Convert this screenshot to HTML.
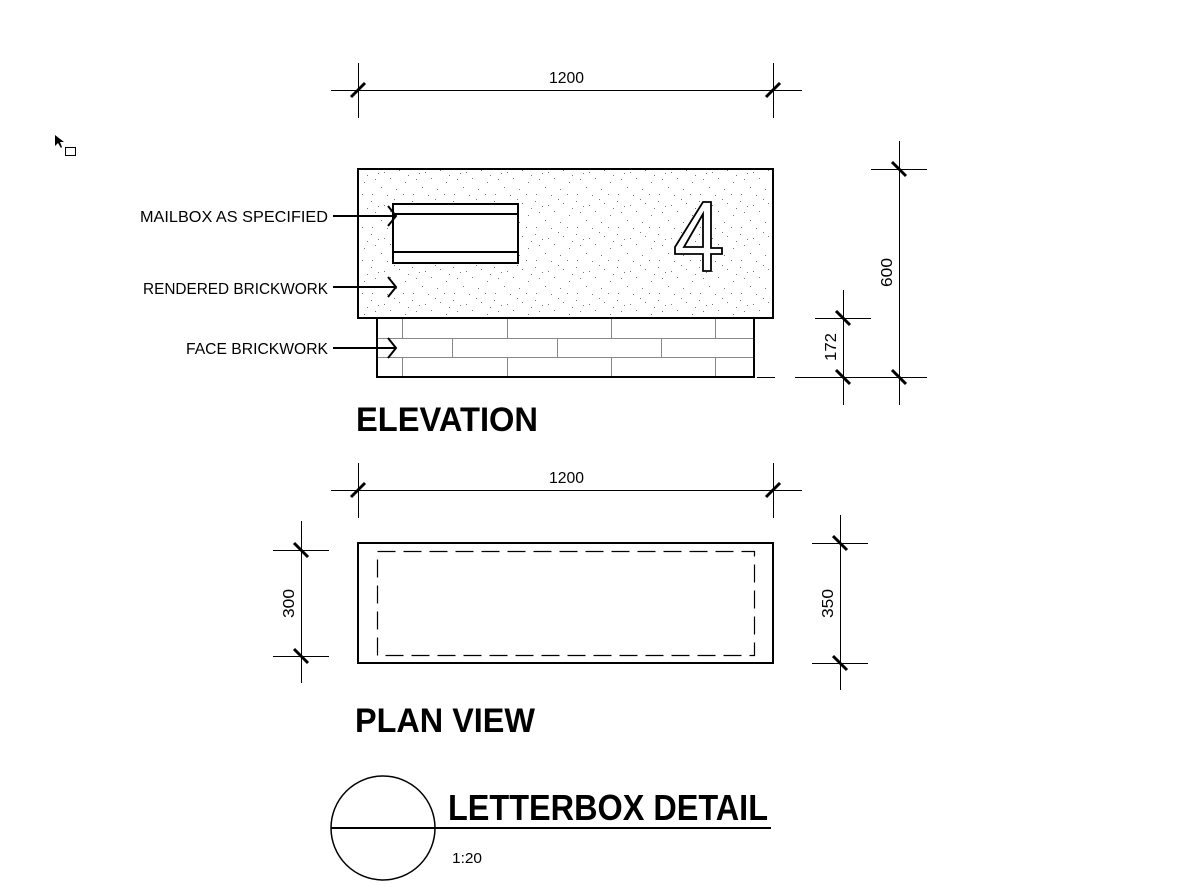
<!DOCTYPE html>
<html><head><meta charset="utf-8"><style>
html,body{margin:0;padding:0;background:#fff;}
svg{display:block;}
text{font-family:"Liberation Sans",sans-serif;fill:#000;}
</style></head><body>
<svg width="1192" height="887" viewBox="0 0 1192 887" xmlns="http://www.w3.org/2000/svg">
<defs>
<pattern id="st" width="41" height="33" patternUnits="userSpaceOnUse">
<g fill="#777">
<rect x="2" y="3" width="1" height="1"/><rect x="15" y="7" width="1" height="1"/><rect x="30" y="5" width="1" height="1"/>
<rect x="6" y="14" width="1" height="1"/><rect x="21" y="13" width="1" height="1"/><rect x="36" y="17" width="1" height="1"/>
<rect x="12" y="22" width="1" height="1"/><rect x="27" y="24" width="1" height="1"/><rect x="3" y="29" width="1" height="1"/>
<rect x="18" y="30" width="1" height="1"/><rect x="34" y="29" width="1" height="1"/><rect x="9" y="8" width="1" height="1"/>
<rect x="25" y="1" width="1" height="1"/><rect x="39" y="10" width="1" height="1"/>
</g></pattern>
</defs>
<g stroke="#000" fill="none">
<path d="M55 135 L55 146 L58 143 L61 148 L62 147 L60 142 L64 142 Z" fill="#000" stroke="none"/>
<rect x="65.5" y="147.5" width="10" height="8" stroke-width="1" fill="#fff"/>

<line x1="331" y1="90.5" x2="802" y2="90.5" stroke-width="1"/>
<line x1="358.5" y1="63" x2="358.5" y2="118" stroke-width="1"/>
<line x1="773.5" y1="63" x2="773.5" y2="118" stroke-width="1"/>
<line x1="351" y1="97" x2="365" y2="83" stroke-width="3"/>
<line x1="766" y1="97" x2="780" y2="83" stroke-width="3"/>

<rect x="358" y="169" width="415" height="149" fill="url(#st)" stroke-width="2"/>
<rect x="377" y="318" width="377" height="59" fill="#fff" stroke-width="2"/>
<g stroke="#888" stroke-width="1">
<line x1="378" y1="338.5" x2="753" y2="338.5"/><line x1="378" y1="357.5" x2="753" y2="357.5"/>
<line x1="402.5" y1="319" x2="402.5" y2="338"/><line x1="507.5" y1="319" x2="507.5" y2="338"/><line x1="611.5" y1="319" x2="611.5" y2="338"/><line x1="715.5" y1="319" x2="715.5" y2="338"/>
<line x1="452.5" y1="339" x2="452.5" y2="357"/><line x1="557.5" y1="339" x2="557.5" y2="357"/><line x1="661.5" y1="339" x2="661.5" y2="357"/>
<line x1="402.5" y1="358" x2="402.5" y2="376"/><line x1="507.5" y1="358" x2="507.5" y2="376"/><line x1="611.5" y1="358" x2="611.5" y2="376"/><line x1="715.5" y1="358" x2="715.5" y2="376"/>
</g>
<rect x="393" y="204" width="125" height="59" fill="#fff" stroke-width="2"/>
<line x1="393" y1="214" x2="518" y2="214" stroke-width="2"/>
<line x1="393" y1="252" x2="518" y2="252" stroke-width="2"/>
<path d="M703 202 L711 202 L711 248 L722 248 L722 254 L711 254 L711 271 L703 271 L703 254 L675 254 L675 247 Z M703 214 L684 247 L703 247 Z" fill="#fff" stroke-width="1.8"/>

<g stroke-width="2">
<line x1="333" y1="216" x2="395" y2="216"/><polyline points="388,206 396,216 388,226"/>
<line x1="333" y1="287" x2="395" y2="287"/><polyline points="388,277 396,287 388,297"/>
<line x1="333" y1="348" x2="395" y2="348"/><polyline points="388,338 396,348 388,358"/>
</g>

<line x1="899.5" y1="141" x2="899.5" y2="405" stroke-width="1"/>
<line x1="871" y1="169.5" x2="927" y2="169.5" stroke-width="1"/>
<line x1="795" y1="377.5" x2="927" y2="377.5" stroke-width="1"/>
<line x1="757" y1="377.5" x2="775" y2="377.5" stroke-width="1"/>
<line x1="892" y1="162" x2="906" y2="176" stroke-width="3"/>
<line x1="892" y1="370" x2="906" y2="384" stroke-width="3"/>
<line x1="843.5" y1="290" x2="843.5" y2="405" stroke-width="1"/>
<line x1="815" y1="318.5" x2="871" y2="318.5" stroke-width="1"/>
<line x1="836" y1="311" x2="850" y2="325" stroke-width="3"/>
<line x1="836" y1="370" x2="850" y2="384" stroke-width="3"/>

<line x1="331" y1="490.5" x2="802" y2="490.5" stroke-width="1"/>
<line x1="358.5" y1="463" x2="358.5" y2="518" stroke-width="1"/>
<line x1="773.5" y1="463" x2="773.5" y2="518" stroke-width="1"/>
<line x1="351" y1="497" x2="365" y2="483" stroke-width="3"/>
<line x1="766" y1="497" x2="780" y2="483" stroke-width="3"/>
<rect x="358" y="543" width="415" height="120" stroke-width="2"/>
<rect x="377.5" y="551.5" width="377" height="104" stroke-width="1.2" stroke-dasharray="18,8"/>
<line x1="301.5" y1="521" x2="301.5" y2="683" stroke-width="1"/>
<line x1="273" y1="550.5" x2="329" y2="550.5" stroke-width="1"/>
<line x1="273" y1="656.5" x2="329" y2="656.5" stroke-width="1"/>
<line x1="294" y1="543" x2="308" y2="557" stroke-width="3"/>
<line x1="294" y1="649" x2="308" y2="663" stroke-width="3"/>
<line x1="840.5" y1="515" x2="840.5" y2="690" stroke-width="1"/>
<line x1="812" y1="543.5" x2="868" y2="543.5" stroke-width="1"/>
<line x1="812" y1="663.5" x2="868" y2="663.5" stroke-width="1"/>
<line x1="833" y1="536" x2="847" y2="550" stroke-width="3"/>
<line x1="833" y1="656" x2="847" y2="670" stroke-width="3"/>

<circle cx="383" cy="828" r="52" stroke-width="1.5"/>
<line x1="331" y1="828" x2="771" y2="828" stroke-width="2"/>
</g>

<g font-size="16">
<text x="549" y="83" textLength="35" lengthAdjust="spacingAndGlyphs">1200</text>
<text x="549" y="483" textLength="35" lengthAdjust="spacingAndGlyphs">1200</text>
<text x="140" y="222" textLength="188" lengthAdjust="spacingAndGlyphs">MAILBOX AS SPECIFIED</text>
<text x="143" y="294" textLength="185" lengthAdjust="spacingAndGlyphs">RENDERED BRICKWORK</text>
<text x="186" y="354" textLength="142" lengthAdjust="spacingAndGlyphs">FACE BRICKWORK</text>
<text transform="translate(892,287) rotate(-90)" textLength="29" lengthAdjust="spacingAndGlyphs">600</text>
<text transform="translate(836,361) rotate(-90)" textLength="28" lengthAdjust="spacingAndGlyphs">172</text>
<text transform="translate(294,618) rotate(-90)" textLength="29" lengthAdjust="spacingAndGlyphs">300</text>
<text transform="translate(833,618) rotate(-90)" textLength="29" lengthAdjust="spacingAndGlyphs">350</text>
<text x="452" y="863" font-size="15" textLength="30" lengthAdjust="spacingAndGlyphs">1:20</text>
</g>
<g font-weight="bold">
<text x="356" y="431" font-size="34" textLength="182" lengthAdjust="spacingAndGlyphs">ELEVATION</text>
<text x="355" y="732" font-size="34" textLength="180" lengthAdjust="spacingAndGlyphs">PLAN VIEW</text>
<text x="448" y="820" font-size="36" textLength="320" lengthAdjust="spacingAndGlyphs">LETTERBOX DETAIL</text>
</g>
</svg>
</body></html>
